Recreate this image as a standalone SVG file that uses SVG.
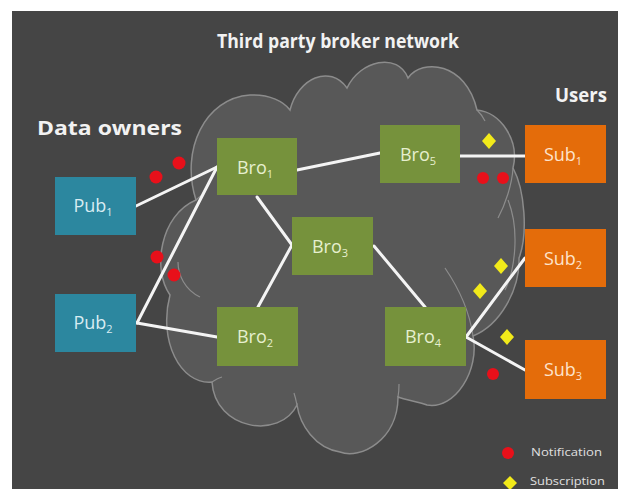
<svg xmlns="http://www.w3.org/2000/svg" width="618" height="489" viewBox="0 0 618 489">
<defs>
<style>
.bg{fill:#454545}
.cloud{fill:#585858;stroke:#8c8c8c;stroke-width:1.5}
.arc{fill:none;stroke:#8c8c8c;stroke-width:1.2}
.pub{fill:#2c879f}
.bro{fill:#76923c}
.sub{fill:#e46c0a}
.lbl{font-family:"Open Sans","Liberation Sans",sans-serif;font-size:18px;text-anchor:middle}
.pubt{fill:#d8ecf2}
.brot{fill:#e6efcf}
.subt{fill:#fde3cc}
.hdr{font-family:"Open Sans","Liberation Sans",sans-serif;font-weight:bold;fill:#f2f2f2}
.leg{font-family:"Open Sans","Liberation Sans",sans-serif;font-size:10px;fill:#e0e0e0}
.wire{stroke:#f4f4f4;stroke-width:3;fill:none;stroke-linecap:round}
.note{fill:#e8101a}
.subs{fill:#f2ea1a}
</style>
</defs>
<rect width="618" height="489" fill="#ffffff"/>
<rect class="bg" x="12" y="11" width="606" height="478"/>

<g id="cloud">
<path class="cloud" d="M 212,382 C 180,385 158,340 170,295 C 152,270 160,215 196,200 C 180,150 205,98 250,95 C 270,94 284,102 290,110 C 298,78 330,64 347,88 C 360,60 398,52 408,78 C 422,58 466,62 477,110 C 500,112 520,140 513,168 C 525,190 528,235 519,258 C 520,290 500,325 473,336 C 480,370 455,410 427,405 C 420,402 405,400 398,397 C 398,440 360,460 340,452 C 315,448 300,425 297,405 C 280,440 215,430 212,382 Z"/>
<path class="arc" d="M 200,297 C 185,290 178,275 178,262"/>
<path class="arc" d="M 212,382 C 215,380 218,378 222,377"/>
<path class="arc" d="M 297,405 C 296,400 295,396 294,393"/>
<path class="arc" d="M 398,397 C 399,392 399,388 399,384"/>
<path class="arc" d="M 477,110 C 480,113 483,117 485,121"/>
<path class="arc" d="M 513,168 C 512,185 505,205 498,218"/>
<path class="arc" d="M 508,200 C 520,230 515,270 505,290"/>
<path class="arc" d="M 473,336 C 470,315 460,290 445,268"/>
<path class="arc" d="M 196,200 C 198,198 200,196 204,194"/>
</g>

<g id="title"><text class="hdr" x="338" y="48" font-size="20" text-anchor="middle" textLength="242" lengthAdjust="spacingAndGlyphs">Third party broker network</text></g>
<g id="data-owners"><text class="hdr" x="37" y="135" font-size="20" textLength="145" lengthAdjust="spacingAndGlyphs">Data owners</text></g>
<g id="users"><text class="hdr" x="555" y="102" font-size="20" textLength="52" lengthAdjust="spacingAndGlyphs">Users</text></g>

<g id="connectors">
<line class="wire" x1="136" y1="206" x2="217" y2="167"/>
<line class="wire" x1="137" y1="323" x2="217" y2="167"/>
<line class="wire" x1="137" y1="323" x2="217" y2="337"/>
<line class="wire" x1="297" y1="170" x2="380" y2="153"/>
<line class="wire" x1="257" y1="197" x2="292" y2="245"/>
<line class="wire" x1="292" y1="245" x2="258" y2="307"/>
<line class="wire" x1="374" y1="246" x2="425" y2="307"/>
<line class="wire" x1="460" y1="156" x2="525" y2="156"/>
<line class="wire" x1="466" y1="337" x2="525" y2="258"/>
<line class="wire" x1="466" y1="337" x2="525" y2="370"/>
</g>

<g id="pub1"><rect class="pub" x="55" y="177" width="81" height="58"/><text class="lbl pubt" x="93" y="212">Pub<tspan font-size="11" dy="4">1</tspan></text></g>
<g id="pub2"><rect class="pub" x="55" y="294" width="81" height="58"/><text class="lbl pubt" x="93" y="329">Pub<tspan font-size="11" dy="4">2</tspan></text></g>

<g id="bro1"><rect class="bro" x="217" y="138" width="80" height="57"/><text class="lbl brot" x="255" y="174">Bro<tspan font-size="11" dy="4">1</tspan></text></g>
<g id="bro5"><rect class="bro" x="380" y="125" width="80" height="58"/><text class="lbl brot" x="418" y="161">Bro<tspan font-size="11" dy="4">5</tspan></text></g>
<g id="bro3"><rect class="bro" x="292" y="217" width="81" height="58"/><text class="lbl brot" x="330" y="253">Bro<tspan font-size="11" dy="4">3</tspan></text></g>
<g id="bro2"><rect class="bro" x="217" y="307" width="81" height="59"/><text class="lbl brot" x="255" y="343">Bro<tspan font-size="11" dy="4">2</tspan></text></g>
<g id="bro4"><rect class="bro" x="385" y="307" width="81" height="59"/><text class="lbl brot" x="423" y="343">Bro<tspan font-size="11" dy="4">4</tspan></text></g>

<g id="sub1"><rect class="sub" x="525" y="125" width="81" height="58"/><text class="lbl subt" x="563" y="161">Sub<tspan font-size="11" dy="4">1</tspan></text></g>
<g id="sub2"><rect class="sub" x="525" y="229" width="81" height="58"/><text class="lbl subt" x="563" y="265">Sub<tspan font-size="11" dy="4">2</tspan></text></g>
<g id="sub3"><rect class="sub" x="525" y="340" width="81" height="59"/><text class="lbl subt" x="563" y="376">Sub<tspan font-size="11" dy="4">3</tspan></text></g>

<g id="notifications">
<circle class="note" cx="156" cy="177" r="6.5"/>
<circle class="note" cx="179" cy="163" r="6.5"/>
<circle class="note" cx="157" cy="257" r="6.5"/>
<circle class="note" cx="174" cy="275" r="6.5"/>
<circle class="note" cx="483" cy="178" r="6"/>
<circle class="note" cx="503" cy="178" r="6"/>
<circle class="note" cx="493" cy="374" r="6"/>
</g>
<g id="subscriptions">
<polygon class="subs" points="489,133 496,141 489,149 482,141"/>
<polygon class="subs" points="501,258 508,266 501,274 494,266"/>
<polygon class="subs" points="480,283 487,291 480,299 473,291"/>
<polygon class="subs" points="507,329 514,337 507,345 500,337"/>
</g>

<g id="legend">
<circle class="note" cx="508" cy="453" r="6"/>
<text class="leg" x="531" y="456" textLength="71" lengthAdjust="spacingAndGlyphs">Notification</text>
<polygon class="subs" points="510,476 517,483 510,490 503,483"/>
<text class="leg" x="530" y="485" textLength="75" lengthAdjust="spacingAndGlyphs">Subscription</text>
</g>
</svg>
